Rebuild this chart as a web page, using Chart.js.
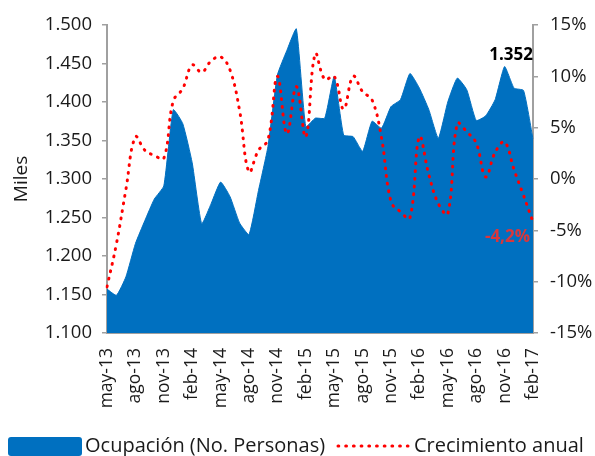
<!DOCTYPE html>
<html><head><meta charset="utf-8">
<script src="https://cdn.jsdelivr.net/npm/chart.js@4.4.1/dist/chart.umd.min.js"></script>
<style>
html,body{margin:0;padding:0;background:#fff;}
#wrap{position:relative;width:595px;height:456px;overflow:hidden;}
canvas{position:absolute;left:0;top:0;}
.lg{position:absolute;font-family:"Open Sans",sans-serif;font-size:20px;color:#1a1a1a;line-height:20px;white-space:nowrap;}
</style></head><body>
<div id="wrap">
<canvas id="c" width="595" height="456"></canvas>
<div class="lg" style="left:8px;top:437px;width:74px;height:19px;background:#0070C0;border-radius:3px;"></div>
<div class="lg" id="lg1" style="left:85px;top:435px;"></div>
<svg class="lg" style="left:336px;top:440px;" width="74" height="12"><line x1="2" y1="6" x2="72" y2="6" stroke="#FF0000" stroke-width="3" stroke-linecap="round" stroke-dasharray="0.8 6.9"/></svg>
<div class="lg" id="lg2" style="left:414px;top:435px;"></div>
</div>
<script>
const categories = ["may-13","jun-13","jul-13","ago-13","sep-13","oct-13","nov-13","dic-13",
  "ene-14","feb-14","mar-14","abr-14","may-14","jun-14","jul-14","ago-14","sep-14","oct-14","nov-14","dic-14",
  "ene-15","feb-15","mar-15","abr-15","may-15","jun-15","jul-15","ago-15","sep-15","oct-15","nov-15","dic-15",
  "ene-16","feb-16","mar-16","abr-16","may-16","jun-16","jul-16","ago-16","sep-16","oct-16","nov-16","dic-16",
  "ene-17","feb-17"];
// Ocupación, miles de personas
const ocupacion = [1157,1149,1173,1216,1246,1274,1291,1390,1372,1321,1242,1268,
  1296,1277,1243,1228,1285,1342,1435,1467,1495,1368,1379,1379,1433,1357,1355,1336,
  1375,1366,1394,1403,1437,1418,1390,1353,1400,1431,1416,1376,1382,1403,1446,1418,1415,1352];
// Crecimiento anual, %
const crecimiento = [-10.5,-6.3,-1.0,4.1,2.8,2.3,2.0,7.6,8.8,11.1,10.4,11.5,
  11.9,10.6,6.7,0.7,2.8,3.8,10.0,4.4,9.0,4.1,12.2,9.7,10.0,6.8,10.0,8.5,
  7.7,4.0,-2.2,-3.2,-3.8,4.1,0.4,-2.4,-3.4,5.4,4.6,3.5,0.2,2.6,3.6,0.9,-1.6,-4.2];
const seriesNames = ["Ocupación (No. Personas)","Crecimiento anual"];
const leftAxis = {min:1100, max:1500, step:50, title:"Miles"};
const rightAxis = {min:-15, max:15, step:5};
const tickEvery = 3;

document.getElementById('lg1').textContent = seriesNames[0];
document.getElementById('lg2').textContent = seriesNames[1];

const FONT = '"Open Sans", sans-serif';
const AXIS = '#A0A0A0';
const TXT = '#1a1a1a';
function fmtMiles(v){ const t=Math.floor(v/1000), r=Math.round(v%1000); return t+'.'+String(r).padStart(3,'0'); }
function fmtPct(v){ return String(v).replace('.',',')+'%'; }

const endLabels = {
  id:'endLabels',
  afterDatasetsDraw(chart){
    const ctx = chart.ctx;
    const mb = chart.getDatasetMeta(0), mr = chart.getDatasetMeta(1);
    const pb = mb.data[mb.data.length-1], pr = mr.data[mr.data.length-1];
    ctx.save();
    ctx.font = 'bold 17px ' + FONT;
    ctx.textAlign = 'right'; ctx.textBaseline = 'middle';
    ctx.fillStyle = '#000';
    ctx.fillText(fmtMiles(ocupacion[ocupacion.length-1]), pb.x, chart.chartArea.top + 30);
    ctx.fillStyle = '#D9373C';
    ctx.fillText(fmtPct(crecimiento[crecimiento.length-1]), pr.x - 3, pr.y + 15);
    ctx.restore();
  }
};

new Chart(document.getElementById('c'), {
  type:'line',
  data:{
    labels:categories,
    datasets:[
      {label:seriesNames[0], data:ocupacion, yAxisID:'y', order:2,
       fill:'start', backgroundColor:'#0070C0', borderColor:'#0070C0', borderWidth:1,
       pointRadius:0, tension:0.15},
      {label:seriesNames[1], data:crecimiento, yAxisID:'y2', order:1,
       fill:false, borderColor:'#FF0000', borderWidth:3, borderDash:[0.8,6.9], borderCapStyle:'round',
       pointRadius:0, tension:0.4}
    ]
  },
  options:{
    responsive:false, animation:false, devicePixelRatio:1,
    layout:{padding:{top:25,left:0,right:0,bottom:0}},
    plugins:{legend:{display:false}, tooltip:{enabled:false}},
    scales:{
      x:{
        offset:false,
        grid:{display:false},
        border:{display:true, color:AXIS, width:2},
        ticks:{autoSkip:false, maxRotation:90, minRotation:90, padding:7,
          color:TXT, font:{family:FONT, size:17.5},
          callback:function(v,i){ return i % tickEvery === 0 ? categories[i] : ''; }},
        afterFit:function(s){ s.height = 123; }
      },
      y:{
        position:'left', min:leftAxis.min, max:leftAxis.max,
        grid:{display:true, drawOnChartArea:false, drawTicks:true, tickLength:5, color:AXIS, lineWidth:1.5},
        border:{display:true, color:AXIS, width:2},
        ticks:{stepSize:leftAxis.step, padding:10, color:TXT, font:{family:FONT, size:18.5},
          callback:function(v){ return fmtMiles(v); }},
        title:{display:true, text:leftAxis.title, color:TXT, font:{family:FONT, size:19}, padding:{top:10,bottom:0}},
        afterFit:function(s){ s.width = 107; }
      },
      y2:{
        position:'right', min:rightAxis.min, max:rightAxis.max,
        grid:{display:true, drawOnChartArea:false, drawTicks:true, tickLength:5, color:AXIS, lineWidth:1.5},
        border:{display:true, color:AXIS, width:2},
        ticks:{stepSize:rightAxis.step, padding:12, color:TXT, font:{family:FONT, size:18.5},
          callback:function(v){ return v + '%'; }},
        afterFit:function(s){ s.width = 62; }
      }
    }
  },
  plugins:[endLabels]
});
</script>
</body></html>
